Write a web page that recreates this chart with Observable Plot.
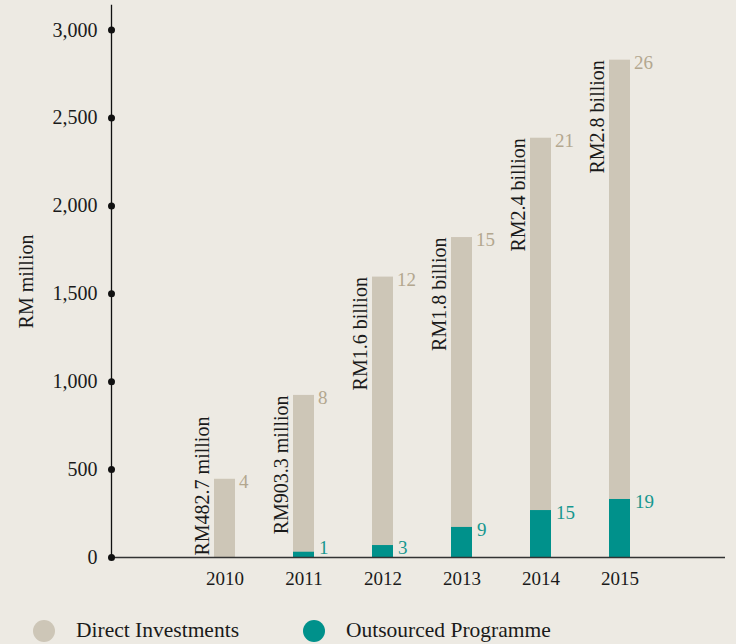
<!DOCTYPE html>
<html>
<head>
<meta charset="utf-8">
<script src="https://cdn.jsdelivr.net/npm/d3@7"></script>
<script src="https://cdn.jsdelivr.net/npm/@observablehq/plot@0.6"></script>
<style>
  html, body { margin: 0; padding: 0; background: #edeae3; }
  body { width: 736px; height: 644px; overflow: hidden; font-family: "Liberation Serif", serif; }
  #legend { position: relative; height: 40px; }
  .item { position: absolute; top: 14px; display: flex; align-items: center; font-size: 21.5px; color: #1a1a1a; }
  .sw { width: 22px; height: 22px; border-radius: 50%; margin-right: 21px; }
</style>
</head>
<body>
<div id="chart"></div>
<div id="legend"></div>
<script>
// ---- data ----
const years = ["2010", "2011", "2012", "2013", "2014", "2015"];
const directTotal = [445, 922, 1595, 1820, 2385, 2829];   // RM million (bar height)
const outsourced = [0, 30, 68, 171, 267, 330];            // RM million (teal segment)
const directCount = [4, 8, 12, 15, 21, 26];
const outsourcedCount = [null, 1, 3, 9, 15, 19];
const amountLabels = ["RM482.7 million", "RM903.3 million", "RM1.6 billion", "RM1.8 billion", "RM2.4 billion", "RM2.8 billion"];
const yTicks = [0, 500, 1000, 1500, 2000, 2500, 3000];
const seriesNames = ["Direct Investments", "Outsourced Programme"];
const seriesColors = ["#cdc6b7", "#00918b"];

const labelFit = 820;     // bars shorter than their label get it from the baseline
const countFloor = 70;    // keep small counts above the baseline

const data = years.map((year, i) => ({
  year,
  total: directTotal[i],
  outsourced: outsourced[i],
  dCount: directCount[i],
  oCount: outsourcedCount[i],
  amount: amountLabels[i]
}));

const chart = Plot.plot({
  width: 736,
  height: 604,
  marginLeft: 111,
  marginRight: 11,
  marginTop: 5,
  marginBottom: 47,
  style: { background: "transparent", fontFamily: "Liberation Serif, serif", fontSize: "19px", color: "#1a1a1a" },
  x: { type: "band", domain: years, range: [183.6, 660], paddingInner: 0.74, paddingOuter: 0.37, label: null },
  y: { domain: [0, 3140], label: null },
  marks: [
    Plot.barY(data, { x: "year", y: "total", fill: seriesColors[0] }),
    Plot.barY(data.filter(d => d.outsourced > 0), { x: "year", y: "outsourced", fill: seriesColors[1] }),
    Plot.ruleY([0], { stroke: "#333", strokeWidth: 1.4 }),
    Plot.frame({ anchor: "left", stroke: "#111", strokeWidth: 1.3 }),
    Plot.dot(yTicks, { y: d => d, frameAnchor: "left", r: 3.5, fill: "#111" }),
    Plot.axisY({ ticks: yTicks, tickSize: 0, tickPadding: 14, tickFormat: d3.format(","), label: null, fontSize: 20 }),
    Plot.axisX({ tickSize: 0, tickPadding: 14, label: null, fontSize: 19 }),
    Plot.text(["RM million"], { frameAnchor: "left", rotate: -90, dx: -79, lineAnchor: "bottom", textAnchor: "middle", fontSize: 20, fill: "#1a1a1a" }),
    Plot.text(data.filter(d => d.total >= labelFit), {
      x: "year", y: "total", text: "amount", rotate: -90, textAnchor: "end", lineAnchor: "bottom",
      dx: -16, fontSize: 20, fill: "#1a1a1a"
    }),
    Plot.text(data.filter(d => d.total < labelFit), {
      x: "year", y: 0, text: "amount", rotate: -90, textAnchor: "start", lineAnchor: "bottom",
      dx: -16, dy: -2, fontSize: 20, fill: "#1a1a1a"
    }),
    Plot.text(data, {
      x: "year", y: "total", text: d => String(d.dCount), textAnchor: "start", lineAnchor: "top",
      dx: 14, dy: -5, fontSize: 19, fill: "#b3a78f"
    }),
    Plot.text(data.filter(d => d.oCount != null), {
      x: "year", y: d => Math.max(d.outsourced, countFloor), text: d => String(d.oCount), textAnchor: "start", lineAnchor: "top",
      dx: 15, dy: -5, fontSize: 19, fill: "#16978f"
    })
  ]
});
document.getElementById("chart").appendChild(chart);

const legend = document.getElementById("legend");
const lefts = [33, 303];
seriesNames.forEach((name, i) => {
  const item = document.createElement("div");
  item.className = "item";
  item.style.left = lefts[i] + "px";
  const sw = document.createElement("span");
  sw.className = "sw";
  sw.style.background = seriesColors[i];
  const tx = document.createElement("span");
  tx.textContent = name;
  item.appendChild(sw);
  item.appendChild(tx);
  legend.appendChild(item);
});
</script>
</body>
</html>
